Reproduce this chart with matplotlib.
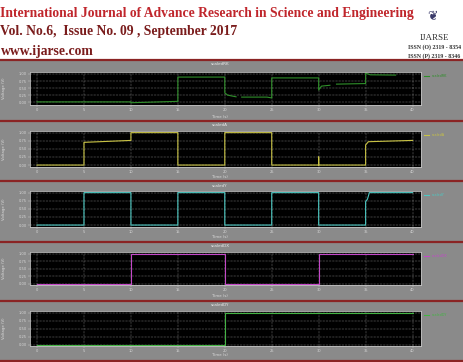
import numpy as np
import matplotlib
matplotlib.use("Agg")
import matplotlib.pyplot as plt

nan = np.nan

# time axis ticks (s)
xticks = [0, 5, 10, 15, 20, 25, 30, 35, 40]
yticks = [0, 0.25, 0.5, 0.75, 1]

titles = ["scaledRK", "scaledA", "scaledY", "scaledDX", "scaledDY"]

t1 = [0, 10, 10, 15, 15, 20, 20, 20.3, 21.2, nan, 21.8, 24.5, 25, 25, 30, 30, 30.3, 31.2, nan, 31.9, 35, 35, 35.5, 38.2]
v1 = [0.01, 0.01, -0.02, 0.03, 0.89, 0.89, 0.33, 0.25, 0.19, nan, 0.18, 0.18, 0.15, 0.86, 0.86, 0.43, 0.57, 0.6, nan, 0.64, 0.66, 1.03, 0.97, 0.96]

t2 = [0, 5, 5, 10, 10, 15, 15, 20, 20, 25, 25, 30, 30, 30, 35, 35, 35.3, 40]
v2 = [0, 0, 0.7, 0.76, 1.0, 1.0, 0, 0, 1.0, 1.0, 0, 0, 0.25, 0, 0, 0.62, 0.72, 0.76]

t3 = [0, 5, 5, 10, 10, 15, 15, 20, 20, 25, 25, 30, 30, 35, 35, 35.2, 35.4, 40]
v3 = [0, 0, 1, 1, 0, 0, 1, 1, 0, 0, 1, 1, 0, 0, 0.72, 0.8, 1, 1]

t4 = [0, 10, 10, 20, 20, 30, 30, 40]
v4 = [0, 0, 1, 1, 0, 0, 1, 1]

t5 = [0, 20, 20, 40]
v5 = [0, 0, 1, 1]

series = [(t1, v1), (t2, v2), (t3, v3), (t4, v4), (t5, v5)]
colors = ["#2f8f2a", "#c8c244", "#4cc8c2", "#c448c8", "#44b444"]

W, H = 463, 362
fig = plt.figure(figsize=(W / 100, H / 100), dpi=100)
fig.patch.set_facecolor("white")

def fx(x):
    return x / W

def fy(y):
    return 1 - y / H

# gray panel background
bg = fig.add_axes([0, 0, 1, fy(60)])
bg.set_facecolor("#8a8a8a")
bg.set_xticks([])
bg.set_yticks([])
for s in bg.spines.values():
    s.set_visible(False)

# red separators
for y in [60, 121, 181, 242, 301, 361]:
    fig.add_artist(plt.Line2D([0, 1], [fy(y), fy(y)], color="#8a2424", lw=1.6))

# header
red = "#c0262c"
dark = "#7a1c1c"
fig.text(fx(0.5), fy(13), "International Journal of Advance Research in Science and Engineering",
         color=red, fontsize=9.8, fontweight="bold", family="Liberation Serif", va="center")
fig.text(fx(0.5), fy(32), "Vol. No.6,  Issue No. 09 , September 2017",
         color=dark, fontsize=9.8, fontweight="bold", family="Liberation Serif", va="center")
fig.text(fx(0.5), fy(51), "www.ijarse.com",
         color=dark, fontsize=9.8, fontweight="bold", family="Liberation Serif", va="center")
fig.text(fx(433), fy(17), "\u2766", color="#3a3a6a", fontsize=9, ha="center", va="center",
         family="DejaVu Sans")
fig.text(fx(434), fy(38), "IJARSE", color="#333333", fontsize=6.5, ha="center", va="center",
         family="Liberation Serif")
fig.text(fx(408), fy(47), "ISSN (O) 2319 - 8354", color="#333333", fontsize=4.2,
         fontweight="bold", family="Liberation Serif", va="center")
fig.text(fx(408), fy(56), "ISSN (P) 2319 - 8346", color="#333333", fontsize=4.2,
         fontweight="bold", family="Liberation Serif", va="center")

# panel geometry (pixel top, bottom of black area, title y, xlabel y)
boxes = [(72, 105, 64, 117), (131, 167, 125, 177), (191, 227, 186, 237),
         (252, 285, 246, 296), (311, 346, 305, 355)]
ylims = [(-0.1, 1.07), (-0.06, 1.05), (-0.06, 1.05), (-0.04, 1.05), (-0.04, 1.05)]
x0, x1 = 30, 421

for i, ((top, bot, ty, ly), (t, v)) in enumerate(zip(boxes, series)):
    ax = fig.add_axes([fx(x0), fy(bot), fx(x1 - x0), (bot - top) / H])
    ax.set_facecolor("black")
    ax.plot(t, v, color=colors[i], lw=0.8, label=titles[i])
    ax.set_xlim(-0.75, 40.9)
    ax.set_ylim(*ylims[i])
    ax.set_xticks(xticks)
    ax.set_yticks(yticks)
    ax.tick_params(colors="#d6d6d6", labelsize=2.6, length=1.2, width=0.3, pad=1)
    ax.grid(True, color="white", ls=(0, (1, 2)), lw=0.35)
    for s in ax.spines.values():
        s.set_color("#c0c0c0")
        s.set_linewidth(0.6)
    ax.legend(loc="upper left", bbox_to_anchor=(1.002, 1.0), fontsize=2.4, frameon=False,
              labelcolor=colors[i], handlelength=1.5, borderaxespad=0.3)
    fig.text(fx(220), fy(ty), titles[i], color="#e8e8e8", fontsize=3, ha="center", va="center")
    fig.text(fx(220), fy(ly), "Time (s)", color="#dcdcdc", fontsize=2.8, ha="center", va="center")
    fig.text(fx(4), fy((top + bot) / 2), "Voltage (V)", color="#dcdcdc", fontsize=2.8,
             rotation=90, ha="center", va="center")

fig.savefig("out.png", dpi=100)
